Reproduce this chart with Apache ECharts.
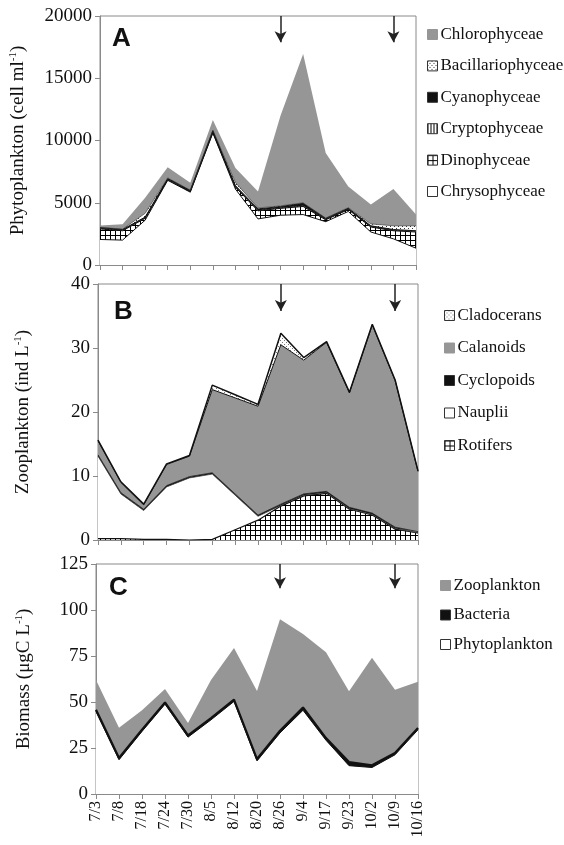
<!DOCTYPE html>
<html>
<head>
<meta charset="utf-8">
<style>
  html, body { margin: 0; padding: 0; background: #fff; }
  #chart { width: 564px; height: 845px; }
</style>
<script src="https://cdn.jsdelivr.net/npm/echarts@6.0.0/dist/echarts.min.js"></script>
</head>
<body>
<div id="chart"></div>
<script>
var dates = ['7/3', '7/8', '7/18', '7/24', '7/30', '8/5', '8/12', '8/20', '8/26', '9/4', '9/17', '9/23', '10/2', '10/9', '10/16'];
var arrowDates = ['8/26', '10/9'];

// A: phytoplankton (cell ml-1), bottom to top
var chrysophyceae = [2050, 2000, 3600, 6800, 5850, 10600, 6100, 3700, 4000, 4050, 3480, 4300, 2650, 2100, 1350];
var dinophyceae = [850, 750, 150, 50, 50, 50, 150, 650, 550, 650, 150, 150, 400, 650, 1300];
var cryptophyceae = [50, 50, 50, 50, 30, 50, 50, 50, 50, 50, 30, 30, 50, 50, 50];
var cyanophyceae = [50, 50, 50, 50, 50, 80, 80, 100, 100, 200, 80, 80, 50, 50, 50];
var bacillariophyceae = [30, 30, 300, 50, 30, 50, 250, 80, 50, 50, 30, 50, 150, 300, 400];
var chlorophyceae = [150, 390, 1250, 850, 590, 820, 1170, 1320, 7250, 11950, 5230, 1690, 1550, 2950, 900];

// B: zooplankton (ind L-1), bottom to top
var rotifers = [0.2, 0.2, 0.1, 0.1, 0.0, 0.1, 1.6, 3.1, 5.3, 6.9, 7.3, 4.8, 3.9, 1.7, 1.1];
var nauplii = [12.9, 7.0, 4.5, 8.2, 9.7, 10.2, 5.4, 0.6, 0.1, 0.1, 0.1, 0.1, 0.1, 0.1, 0.0];
var cyclopoids = [0.2, 0.2, 0.2, 0.2, 0.2, 0.2, 0.2, 0.2, 0.2, 0.2, 0.2, 0.2, 0.2, 0.2, 0.2];
var calanoids = [2.2, 1.6, 0.7, 3.3, 3.2, 13.0, 15.0, 17.0, 24.9, 20.9, 23.3, 17.9, 29.4, 22.9, 9.4];
var cladocerans = [0.1, 0.1, 0.1, 0.1, 0.1, 0.7, 0.5, 0.3, 1.8, 0.4, 0.1, 0.1, 0.1, 0.1, 0.1];

// C: biomass (ugC L-1), bottom to top
var phytoBiomass = [44.8, 18.6, 34, 48.8, 30.9, 40.3, 50.3, 18, 33.2, 45.5, 29.2, 15.4, 14.4, 21.3, 34.9];
var bacteriaBiomass = [1.0, 1.0, 1.0, 1.0, 1.0, 1.0, 1.0, 1.0, 1.2, 1.5, 1.2, 2.0, 1.2, 1.0, 1.0];
var zooBiomass = [16.2, 16.4, 10.5, 7.2, 6.7, 20.7, 28, 37, 60.6, 40, 46.6, 38.4, 58.4, 34.4, 25.1];

var axisMax = [20000, 40, 125];
var axisStep = [5000, 10, 25];

var serif = "'Liberation Serif', 'Times New Roman', serif";
var grey = '#969696';
var ink = '#111';
var frame = '#8a8a8a';

function pattern(w, h, draw) {
  var c = document.createElement('canvas');
  c.width = w; c.height = h;
  var g = c.getContext('2d');
  g.fillStyle = '#fff';
  g.fillRect(0, 0, w, h);
  draw(g);
  return { image: c, repeat: 'repeat' };
}
var gridFill = pattern(5, 5, function(g) {
  g.fillStyle = '#000';
  g.fillRect(0, 0, 5, 1);
  g.fillRect(0, 0, 1, 5);
});
var vlineFill = pattern(3, 3, function(g) {
  g.fillStyle = '#000';
  g.fillRect(0, 0, 1, 3);
});
var dotFill = pattern(4, 4, function(g) {
  g.fillStyle = '#333';
  g.fillRect(0, 0, 1, 1);
  g.fillRect(2, 2, 1, 1);
});
var lightDot = pattern(4, 4, function(g) {
  g.fillStyle = '#777';
  g.fillRect(0, 0, 1, 1);
  g.fillRect(2, 2, 1, 1);
});

var grids = [
  { left: 100, right: 148, top: 16, height: 249 },
  { left: 98, right: 146, top: 284, height: 256 },
  { left: 96, right: 146, top: 564, height: 230 }
];
var names = [
  'Phytoplankton (cell ml{s|-1})',
  'Zooplankton (ind L{s|-1})',
  'Biomass (\u03bcgC L{s|-1})'
];
var nameGaps = [72, 65, 62];

function area(name, idx, data, fill, line) {
  return {
    name: name, type: 'line', xAxisIndex: idx, yAxisIndex: idx,
    stack: 'p' + idx, data: data, symbol: 'none', silent: true,
    lineStyle: line || { width: 0 },
    areaStyle: { color: fill, opacity: 1 },
    itemStyle: { color: fill }
  };
}

function arrows(idx) {
  return {
    silent: true,
    symbol: ['none', 'arrow'],
    symbolSize: [9, 11],
    lineStyle: { color: '#222', width: 1.5, type: 'solid' },
    label: { show: false },
    data: arrowDates.map(function(d) {
      return [{ coord: [d, axisMax[idx]] }, { coord: [d, axisMax[idx] * 0.895] }];
    })
  };
}

var thin = { width: 1, color: ink };

var series = [
  area('Chrysophyceae', 0, chrysophyceae, '#fff', thin),
  area('Dinophyceae', 0, dinophyceae, gridFill, thin),
  area('Cryptophyceae', 0, cryptophyceae, vlineFill, { width: 0.6, color: ink }),
  area('Cyanophyceae', 0, cyanophyceae, '#111', { width: 1, color: '#111' }),
  area('Bacillariophyceae', 0, bacillariophyceae, dotFill, { width: 0.6, color: '#333' }),
  area('Chlorophyceae', 0, chlorophyceae, grey),

  area('Rotifers', 1, rotifers, gridFill, { width: 1.2, color: ink }),
  area('Nauplii', 1, nauplii, '#fff', { width: 0.8, color: '#444' }),
  area('Cyclopoids', 1, cyclopoids, '#111', { width: 0.8, color: '#111' }),
  area('Calanoids', 1, calanoids, grey, { width: 1, color: ink }),
  area('Cladocerans', 1, cladocerans, lightDot, { width: 1.5, color: ink }),

  area('Phytoplankton', 2, phytoBiomass, '#fff', { width: 1, color: ink }),
  area('Bacteria', 2, bacteriaBiomass, '#111', { width: 2.2, color: '#111' }),
  area('Zooplankton', 2, zooBiomass, grey)
];
series[0].markLine = arrows(0);
series[6].markLine = arrows(1);
series[11].markLine = arrows(2);

function box(c, border) {
  return { color: c, borderColor: border || '#333', borderWidth: 1 };
}
function legend(top, left, gap, items) {
  return {
    orient: 'vertical', left: left, top: top, itemGap: gap, padding: 0,
    itemWidth: 10, itemHeight: 10, icon: 'rect', selectedMode: false,
    textStyle: { fontFamily: serif, fontSize: 17, color: ink, padding: [0, 0, 0, -2] },
    data: items.map(function(it) { return { name: it[0], itemStyle: box(it[1], it[2]) }; })
  };
}

var xAxes = grids.map(function(g, i) {
  return {
    type: 'category', gridIndex: i, data: dates, boundaryGap: false,
    axisLine: { lineStyle: { color: frame, width: 1 } },
    axisTick: { show: true, length: 5, lineStyle: { color: frame } },
    axisLabel: {
      show: i === 2, rotate: 90, interval: 0, margin: 7,
      fontFamily: serif, fontSize: 16, color: ink
    },
    splitLine: { show: false }
  };
});
var yAxes = grids.map(function(g, i) {
  return {
    type: 'value', gridIndex: i, min: 0, max: axisMax[i], interval: axisStep[i],
    name: names[i], nameLocation: 'middle', nameGap: nameGaps[i],
    nameTextStyle: {
      fontFamily: serif, fontSize: 19, color: ink,
      rich: { s: { fontFamily: serif, fontSize: 11, color: ink, padding: [0, 0, 9, 0] } }
    },
    axisLine: { show: true, lineStyle: { color: frame } },
    axisTick: { show: true, length: 5, lineStyle: { color: frame } },
    axisLabel: {
      fontFamily: serif, fontSize: 19, color: ink, margin: 8,
      formatter: function(v) { return String(v); }
    },
    splitLine: { show: false }
  };
});

var chart = echarts.init(document.getElementById('chart'), null, { renderer: 'canvas' });
chart.setOption({
  animation: false,
  backgroundColor: '#fff',
  grid: grids.map(function(g) {
    return { left: g.left, right: g.right, top: g.top, height: g.height, show: true, borderColor: frame, borderWidth: 1 };
  }),
  xAxis: xAxes,
  yAxis: yAxes,
  legend: [
    legend(26, 427, 14.4, [
      ['Chlorophyceae', grey, grey], ['Bacillariophyceae', dotFill], ['Cyanophyceae', '#111'],
      ['Cryptophyceae', vlineFill], ['Dinophyceae', gridFill], ['Chrysophyceae', '#fff']
    ]),
    legend(307, 444, 15.5, [
      ['Cladocerans', lightDot], ['Calanoids', grey, grey], ['Cyclopoids', '#111'],
      ['Nauplii', '#fff'], ['Rotifers', gridFill]
    ]),
    legend(577, 440, 12.5, [
      ['Zooplankton', grey, grey], ['Bacteria', '#111'], ['Phytoplankton', '#fff']
    ])
  ],
  graphic: [
    { type: 'text', left: 112, top: 26, style: { text: 'A', font: "bold 26px 'Liberation Sans', Arial, sans-serif", fill: '#111' } },
    { type: 'text', left: 114, top: 299, style: { text: 'B', font: "bold 26px 'Liberation Sans', Arial, sans-serif", fill: '#111' } },
    { type: 'text', left: 109, top: 575, style: { text: 'C', font: "bold 26px 'Liberation Sans', Arial, sans-serif", fill: '#111' } }
  ],
  series: series
});
window.addEventListener('resize', function() { chart.resize(); });
</script>
</body>
</html>
